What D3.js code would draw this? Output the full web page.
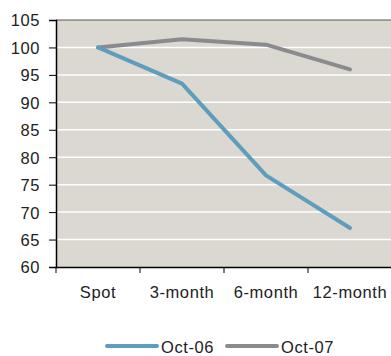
<!DOCTYPE html>
<html><head><meta charset="utf-8">
<script src="https://cdn.jsdelivr.net/npm/d3@7"></script>
<style>body{margin:0;background:#fff}svg{display:block}text{font-family:"Liberation Sans",Arial,sans-serif;fill:#222;letter-spacing:0.6px}</style>
</head><body>
<script>
const categories = ["Spot","3-month","6-month","12-month"];
const seriesNames = ["Oct-06","Oct-07"];
const oct06 = [100, 93.4, 76.7, 67.1];
const oct07 = [100, 101.5, 100.5, 96];
const yTicks = [60,65,70,75,80,85,90,95,100,105];
const colors = ["#5e9dbd","#8b8b8f"];

(function(){
const W=391,H=356, fs="16.5px";
const svg=d3.select("body").append("svg").attr("width",W).attr("height",H);
const pL=56, pR=392, pT=20, pB=267;
const x=d3.scaleBand().domain(categories).range([pL,pR]);
const y=d3.scaleLinear().domain([60,105]).range([pB,pT]);

svg.append("rect").attr("x",pL).attr("y",pT).attr("width",pR-pL).attr("height",pB-pT).attr("fill","#dbd7d1");
svg.append("g").selectAll("line").data(yTicks.filter(d=>d>60&&d<105)).join("line")
  .attr("x1",pL).attr("x2",pR).attr("y1",d=>y(d)).attr("y2",d=>y(d))
  .attr("stroke","#fff").attr("stroke-width",1.5);
svg.append("line").attr("x1",pL).attr("x2",pR).attr("y1",y(105)).attr("y2",y(105)).attr("stroke","#555").attr("stroke-width",1);

const yAxis=svg.append("g").attr("transform",`translate(${pL},0)`)
  .call(d3.axisLeft(y).tickValues(yTicks).tickSize(7).tickPadding(9));
yAxis.select(".domain").attr("stroke","#000").attr("stroke-width",1.5);
yAxis.selectAll(".tick line").attr("stroke","#000");
yAxis.selectAll("text").style("font-size",fs).attr("fill","#222").attr("dy","0.36em");

const xAxis=svg.append("g").attr("transform",`translate(0,${pB})`)
  .call(d3.axisBottom(x).tickSize(0).tickPadding(19));
xAxis.select(".domain").attr("stroke","#000").attr("stroke-width",1.5);
xAxis.selectAll("text").style("font-size",fs).attr("fill","#222");
const bounds=categories.map(c=>x(c));
svg.append("g").selectAll("line").data(bounds).join("line")
  .attr("x1",d=>d).attr("x2",d=>d).attr("y1",pB).attr("y2",pB+6).attr("stroke","#000").attr("stroke-width",1);

const line=d3.line().x((d,i)=>x(categories[i])+x.bandwidth()/2).y(d=>y(d));
[[oct07,colors[1]],[oct06,colors[0]]].forEach(([s,c])=>{
  svg.append("path").datum(s).attr("d",line).attr("fill","none")
    .attr("stroke",c).attr("stroke-width",4).attr("stroke-linecap","round").attr("stroke-linejoin","round");
});

const lg=[{n:seriesNames[0],c:colors[0],x:107},{n:seriesNames[1],c:colors[1],x:227}];
lg.forEach(d=>{
  svg.append("line").attr("x1",d.x).attr("x2",d.x+50).attr("y1",346).attr("y2",346).attr("stroke",d.c).attr("stroke-width",4).attr("stroke-linecap","round");
  svg.append("text").attr("x",d.x+54).attr("y",353).style("font-size",fs).text(d.n);
});
})();
</script>
</body></html>
